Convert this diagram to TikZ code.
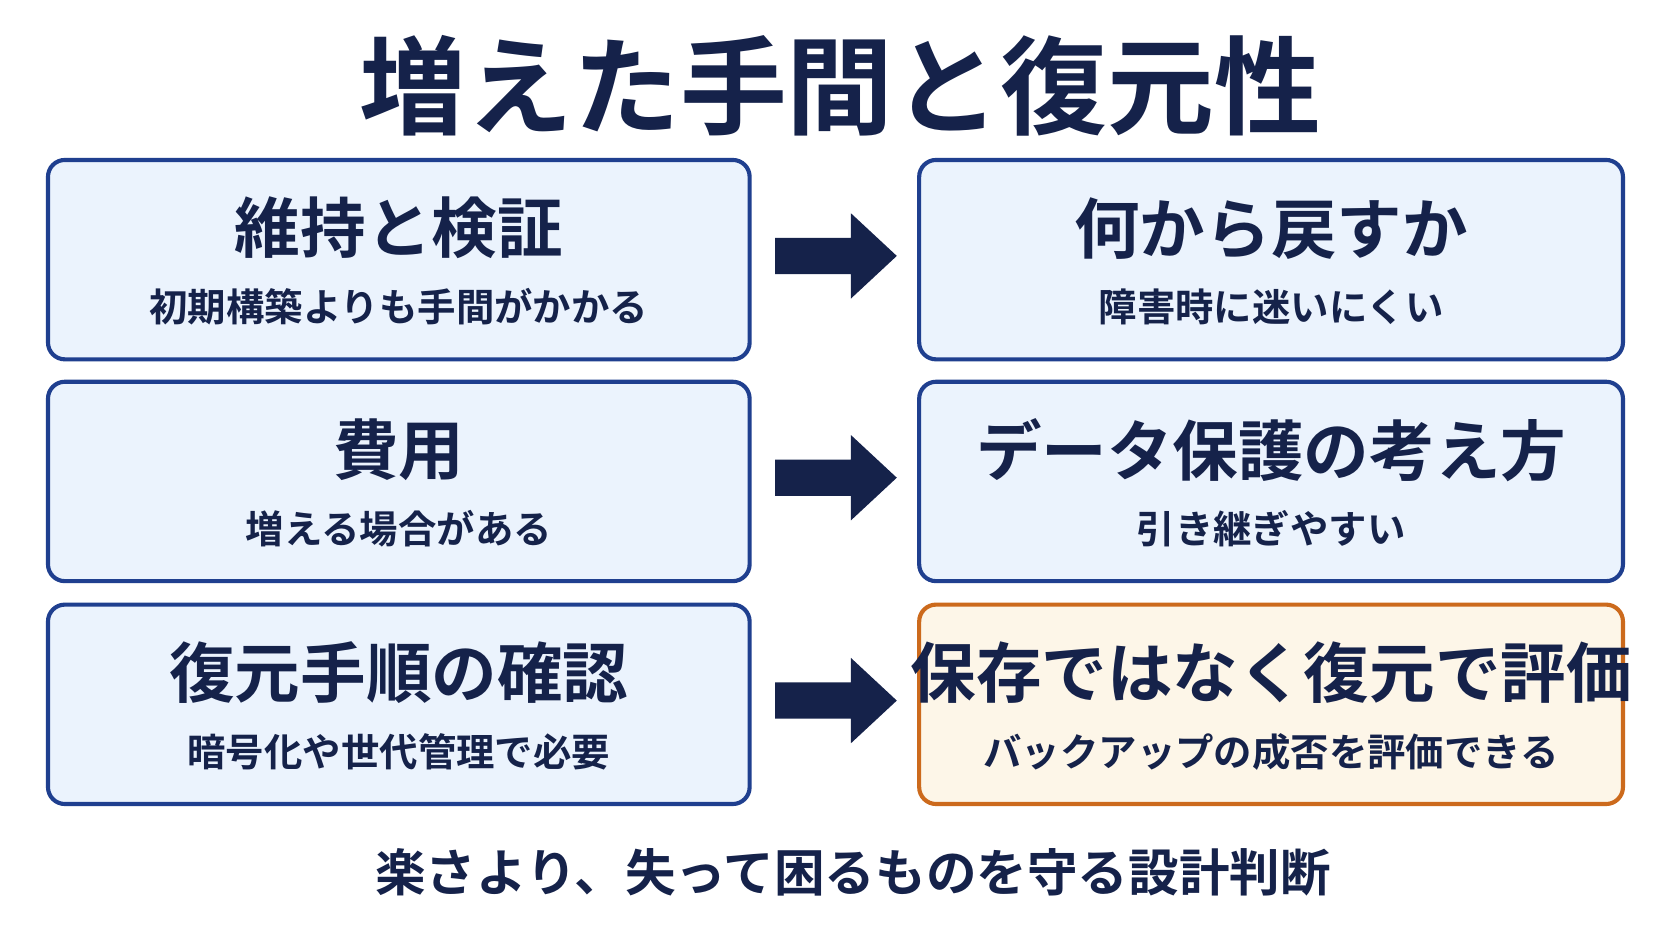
\documentclass[tikz,border=0pt]{standalone}
\usepackage{fontspec}
\newfontfamily\jp{Noto Sans CJK JP Bold}
\usetikzlibrary{shapes.arrows}
\definecolor{navy}{HTML}{15224A}
\definecolor{bfill}{HTML}{EBF3FD}
\definecolor{bline}{HTML}{1F3F8F}
\definecolor{ofill}{HTML}{FDF6E8}
\definecolor{oline}{HTML}{CC6A1C}
\begin{document}
\begin{tikzpicture}[x=0.02cm,y=-0.02cm,
  box/.style={draw=bline,line width=2.2pt,fill=bfill,rounded corners=9pt},
  obox/.style={box,draw=oline,fill=ofill},
  head/.style={font=\jp\fontsize{35}{40}\selectfont,text=navy},
  sub/.style={font=\jp\fontsize{20.5}{24}\selectfont,text=navy},
  arr/.style={fill=navy}]
\useasboundingbox[fill=white] (0,0) rectangle (1568,882);
\node[font=\jp\fontsize{57}{62}\selectfont,text=navy] (title) at (788,80) {増えた手間と復元性};
\foreach \r/\y/\ha/\sa/\hb/\sb in {
 1/150/維持と検証/初期構築よりも手間がかかる/何から戻すか/障害時に迷いにくい,
 2/358/費用/増える場合がある/データ保護の考え方/引き継ぎやすい,
 3/567/復元手順の確認/暗号化や世代管理で必要/保存ではなく復元で評価/バックアップの成否を評価できる}{
  \draw[box] (45,\y) rectangle (703,\y+187);
  \ifnum\r=3 \draw[obox] (862,\y) rectangle (1522,\y+187);
  \else \draw[box] (862,\y) rectangle (1522,\y+187); \fi
  \node[head] (lh\r) at (374,\y+64) {\ha};
  \node[sub] (ls\r) at (374,\y+138) {\sa};
  \node[head] (rh\r) at (1192,\y+64) {\hb};
  \node[sub] (rs\r) at (1192,\y+138) {\sb};
  \fill[arr] (727,\y+73) -- (798,\y+73) -- (798,\y+50) -- (841,\y+90) -- (798,\y+130) -- (798,\y+107) -- (727,\y+107) -- cycle;
}
\node[font=\jp\fontsize{27}{32}\selectfont,text=navy] (foot) at (800,818) {楽さより、失って困るものを守る設計判断};
\end{tikzpicture}
\end{document}
